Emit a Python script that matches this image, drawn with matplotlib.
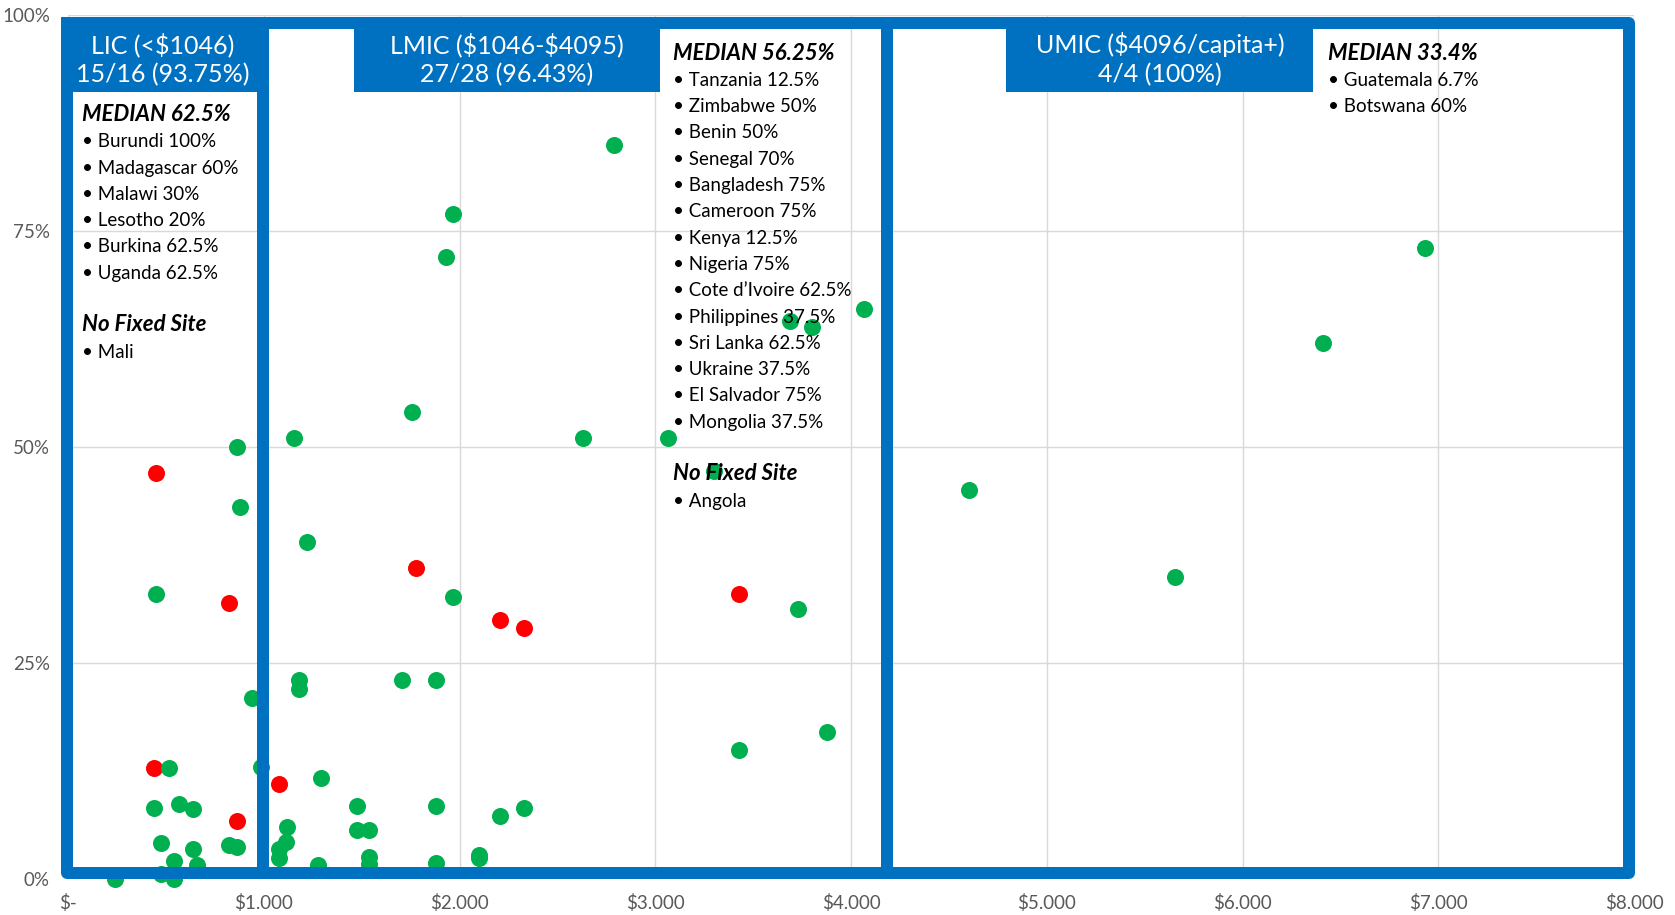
import matplotlib.pyplot as plt
from matplotlib.patches import Rectangle

plt.rcParams['text.parse_math'] = False

# GNI per capita (US$) vs. share (%), green = with fixed site, red = without
green_gni = [862, 878, 449, 938, 518, 984, 439, 569, 637, 473, 637, 824, 862, 543, 661, 473, 543, 240,
             1156, 1219, 1180, 1180, 1118, 1115, 1076, 1076, 1292, 1474, 1879, 2206, 2329, 1474, 1539,
             1275, 1539, 1539, 1879, 2101, 2101, 1755, 1965, 1704, 1879, 2632, 3063, 3299, 3730, 3429,
             3875, 4065, 3687, 3803, 2789, 1965, 1931,
             4605, 5656, 6933, 6411]
green_pct = [50.0, 43.0, 33.0, 21.0, 12.9, 13.0, 8.2, 8.7, 8.1, 4.2, 3.5, 3.9, 3.7, 2.1, 1.6, 0.6, 0.0, 0.0,
             51.0, 39.0, 23.0, 22.0, 6.0, 4.3, 3.5, 2.4, 11.7, 8.45, 8.45, 7.3, 8.2, 5.7, 5.7,
             1.6, 2.6, 1.7, 1.9, 2.8, 2.4, 54.0, 32.6, 23.0, 23.0, 51.0, 51.0, 47.2, 31.2, 14.9,
             17.0, 66.0, 64.6, 63.9, 85.0, 77.0, 72.0,
             45.0, 35.0, 73.0, 62.0]
red_gni = [449, 824, 439, 1079, 865, 1777, 2206, 2329, 3429]
red_pct = [47.0, 32.0, 12.9, 11.0, 6.7, 36.0, 30.0, 29.0, 33.0]

x_ticks = [0, 1000, 2000, 3000, 4000, 5000, 6000, 7000, 8000]
x_labels = ['$-', '$1.000', '$2.000', '$3.000', '$4.000', '$5.000', '$6.000', '$7.000', '$8.000']
y_ticks = [0, 25, 50, 75, 100]
y_labels = ['0%', '25%', '50%', '75%', '100%']

headers = [('LIC (<$1046)', '15/16 (93.75%)'),
           ('LMIC ($1046-$4095)', '27/28 (96.43%)'),
           ('UMIC ($4096/capita+)', '4/4 (100%)')]
lic_text = ['MEDIAN 62.5%', '• Burundi 100%', '• Madagascar 60%', '• Malawi 30%', '• Lesotho 20%',
            '• Burkina 62.5%', '• Uganda 62.5%', '', 'No Fixed Site', '• Mali']
lmic_text = ['MEDIAN 56.25%', '• Tanzania 12.5%', '• Zimbabwe 50%', '• Benin 50%', '• Senegal 70%',
             '• Bangladesh 75%', '• Cameroon 75%', '• Kenya 12.5%', '• Nigeria 75%',
             '• Cote d\u2019Ivoire 62.5%', '• Philippines 37.5%', '• Sri Lanka 62.5%',
             '• Ukraine 37.5%', '• El Salvador 75%', '• Mongolia 37.5%', '', 'No Fixed Site', '• Angola']
umic_text = ['MEDIAN 33.4%', '• Guatemala 6.7%', '• Botswana 60%']

BLUE = '#0070C0'
GREEN = '#00B050'
RED = '#FF0000'
FONT = 'Lato'

W, H = 1675, 915
fig = plt.figure(figsize=(W / 100, H / 100), dpi=100)
ax = fig.add_axes([68 / W, 36 / H, 1566 / W, 864 / H])


def fx(px):
    return px / W


def fy(py):
    return 1 - py / H


ax.scatter(red_gni, red_pct, s=150, color=RED, linewidths=0, zorder=3, clip_on=False)
ax.scatter(green_gni, green_pct, s=150, color=GREEN, linewidths=0, zorder=4, clip_on=False)

ax.set_xlim(0, 8000)
ax.set_ylim(0, 100)
ax.set_xticks(x_ticks, x_labels)
ax.set_yticks(y_ticks, y_labels)
ax.grid(True, color='#D9D9D9', lw=1.0)
ax.set_axisbelow(True)
for s in ax.spines.values():
    s.set_visible(False)
ax.tick_params(length=0, labelsize=13.5, labelcolor='#595959')
ax.tick_params(axis='y', pad=13)
ax.tick_params(axis='x', pad=11)
for lab in ax.get_xticklabels() + ax.get_yticklabels():
    lab.set_family(FONT)

# income group boxes (drawn over the points)
edges = [67, 263, 886.5, 1628.5]
for l, r in zip(edges[:-1], edges[1:]):
    fig.add_artist(Rectangle((fx(l), fy(872.5)), fx(r) - fx(l), fy(23) - fy(872.5),
                             transform=fig.transFigure, fill=False, ec=BLUE, lw=12 * 0.72,
                             joinstyle='round', zorder=5))

# header tabs
tabs = [(61, 269, 163), (354, 660, 507), (1006, 1313, 1160)]
for (l, r, cx), (t1, t2) in zip(tabs, headers):
    fig.add_artist(Rectangle((fx(l), fy(92)), fx(r) - fx(l), fy(17) - fy(92),
                             transform=fig.transFigure, color=BLUE, lw=0, zorder=6))
    fig.text(fx(cx), fy(53), t1, ha='center', va='baseline', color='white',
             fontsize=18, family=FONT, zorder=7)
    fig.text(fx(cx), fy(82), t2, ha='center', va='baseline', color='white',
             fontsize=18, family=FONT, zorder=7)

# country lists
for lines, x0, y0 in [(lic_text, 82, 121), (lmic_text, 673, 59.5), (umic_text, 1328, 59.5)]:
    for i, line in enumerate(lines):
        if not line:
            continue
        heading = not line.startswith('•')
        fig.text(fx(x0), fy(y0 + i * 26.3), line, ha='left', va='baseline', color='black',
                 fontsize=16 if heading else 13.5, family=FONT,
                 fontweight='bold' if heading else 'normal',
                 style='italic' if heading else 'normal', zorder=7)

fig.savefig('out.png', dpi=100)
